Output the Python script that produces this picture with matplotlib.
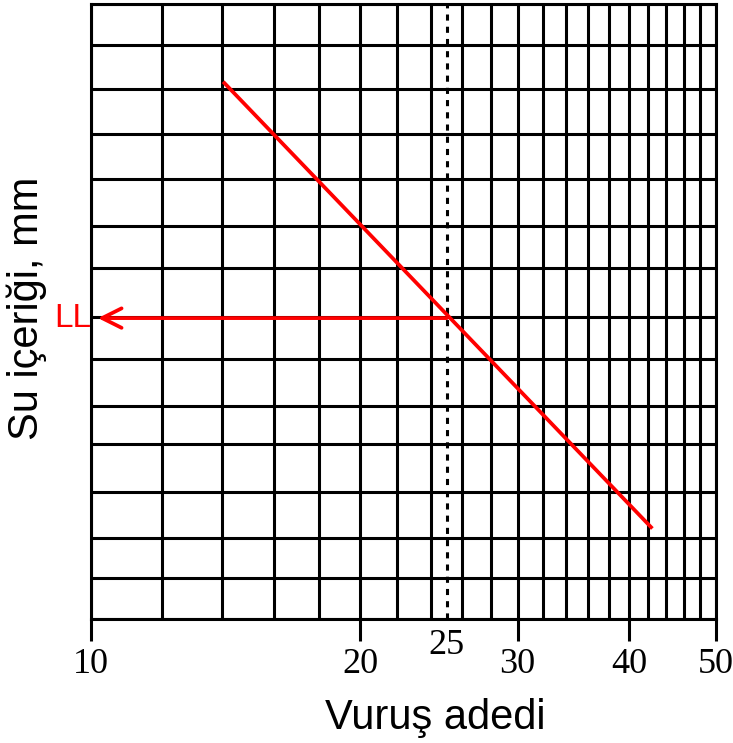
import numpy as np
import matplotlib.pyplot as plt

# vurus adedi grid (log eksen) ve yatay cizgiler
x_grid = list(range(10, 51, 2))
x_ticks = [10, 20, 30, 40, 50]
y_grid = [0, 0.93, 1.84, 2.89, 3.98, 4.85, 5.92, 6.87, 7.99, 8.95, 10.02, 11.04, 12.07, 13.07, 14]

# akis egrisi
flow_x = [14.1, 42.3]
flow_y = [12.2, 2.09]
ll_x = 25
ll_y = 6.85

fig = plt.figure(figsize=(7.33, 7.43), dpi=100)
ax = fig.add_axes([91/733, 1-619/743, (716-91)/733, (619-4)/743])
ax.set_xscale('log')
ax.set_xlim(10, 50)
ax.set_ylim(0, 14)

for v in x_grid:
    ax.axvline(v, color='black', lw=2.2, zorder=1)
for v in y_grid:
    ax.axhline(v, color='black', lw=2.2, zorder=1)
ax.axvline(ll_x, color='black', lw=2.2, ls=(0, (2, 2)), zorder=1)

for s in ax.spines.values():
    s.set_linewidth(2.2)

ax.xaxis.set_minor_locator(plt.NullLocator())
ax.set_xticks(x_ticks)
ax.set_xticklabels([str(t) for t in x_ticks], fontfamily='Liberation Serif', fontsize=26)
ax.tick_params(axis='x', length=16, width=2.2, pad=5)
ax.set_yticks([])
ax.text(ll_x, -0.22, '25', ha='center', va='top', fontsize=26,
        fontfamily='Liberation Serif', clip_on=False)

ax.plot(flow_x, flow_y, color='red', lw=2.7, zorder=3)
ax.annotate('', xy=(10.18, ll_y), xytext=(ll_x, ll_y),
            arrowprops=dict(arrowstyle='->', color='red', lw=2.7, mutation_scale=35,
                            shrinkA=0, shrinkB=0), zorder=3)
ax.text(10.0, ll_y, 'LL', color='red', ha='right', va='center', fontsize=24,
        fontfamily='Liberation Sans', clip_on=False)

fig.text(435/733, 1-718/743, 'Vuruş adedi', ha='center', va='center',
         fontsize=30, fontfamily='Liberation Sans')
fig.text(27/733, 1-308/743, 'Su içeriği, mm', ha='center', va='center', rotation=90,
         fontsize=30, fontfamily='Liberation Sans')

fig.savefig('out.png', dpi=100)
